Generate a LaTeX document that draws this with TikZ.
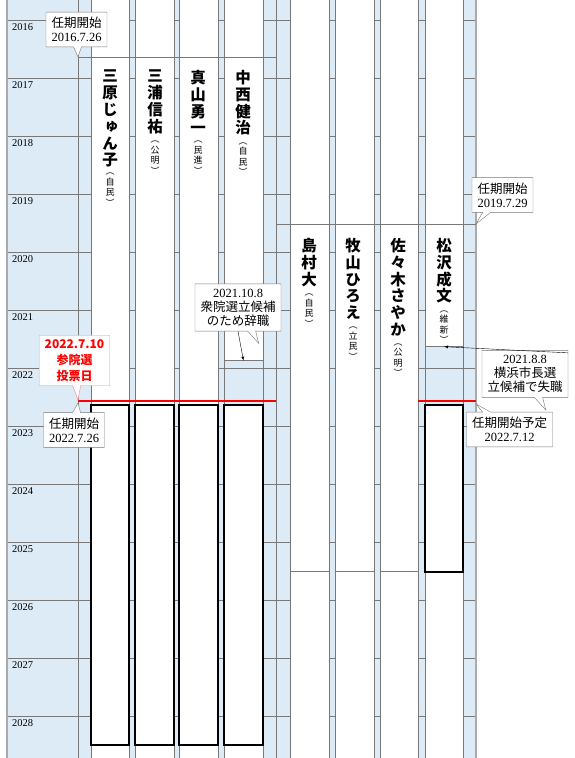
\documentclass[tikz,border=0pt]{standalone}
\usepackage{fontspec}
\setmainfont{Liberation Serif}
\newfontfamily\cjk{Noto Sans CJK JP}
\newfontfamily\tatefont[RawFeature=+vert]{Noto Sans CJK JP}
\usetikzlibrary{shapes.callouts,positioning}
\definecolor{cell}{RGB}{221,235,247}
\definecolor{gridc}{RGB}{120,120,120}
\definecolor{edgec}{RGB}{170,170,170}
\tikzset{gl/.style={draw=gridc,line width=0.7pt},
 namebox/.style={draw=gridc,fill=white,line width=0.7pt,anchor=north},
 term/.style={draw=black,line width=2pt,fill=white},
 who/.style={font=\tatefont\bfseries\fontsize{15.5}{16.8}\selectfont,align=center,inner sep=0pt,anchor=north},
 party/.style={font=\tatefont\fontsize{9}{10.5}\selectfont,align=center,inner sep=0pt},
 note/.style={rectangle callout,draw=gridc,fill=white,align=center,inner xsep=5.5pt,inner ysep=5pt,callout pointer width=8pt,font=\fontsize{12.5}{14}\selectfont},
 vote/.style={note,draw=red!50,text=red,inner ysep=4pt,font=\cjk\bfseries\fontsize{12}{16}\selectfont},
 yr/.style={font=\fontsize{10.5}{12}\selectfont,anchor=north west,inner sep=0pt}}
\newcommand{\jp}[1]{{\cjk #1}}
\newcommand{\tou}[2]{（\\#1\\#2\\）}

\begin{document}
\begin{tikzpicture}[x=1pt,y=-1pt]
\useasboundingbox (0,0) rectangle (575,758);
\fill[cell] (7,0) rectangle (476,758);
\foreach \i in {0,...,12} \draw[gl] (7,20.5+58*\i)--(476,20.5+58*\i);
\fill[white] (91,0) rectangle (129,758) (135,0) rectangle (174,758) (179,0) rectangle (218,758);
\fill[white] (224,0) rectangle (263,57) (224,745) rectangle (263,758);
\fill[white] (290,0) rectangle (329,758) (335,0) rectangle (374,758) (380,0) rectangle (418,758);
\fill[white] (425,0) rectangle (463,224) (425,572) rectangle (463,758);
\foreach \x in {78,91,129,135,174,179,218,224,263,276,290,329,335,374,380,418,425,463} \draw[gl] (\x,0)--(\x,758);
\draw[edgec,line width=2pt] (7,0)--(7,758) (476,0)--(476,758);
\draw[gl] (78,57)--(276,57) (276,224)--(476,224);
\draw[gl] (290,571)--(329,571) (335,571)--(374,571) (380,571)--(418,571);
\node[namebox,minimum width=39,minimum height=303](nakbox) at(243.5,57){};
\node[namebox,minimum width=38,minimum height=122](matbox) at(444,224){};
\draw[red,line width=2pt] (78,401)--(276,401) (418,401)--(476,401);
\draw[term] (91,405) rectangle (129,745);
\draw[term] (135,405) rectangle (174,745);
\draw[term] (179,405) rectangle (218,745);
\draw[term] (224,405) rectangle (263,745);
\draw[term] (425,405) rectangle (463,572);
\foreach \y [count=\i from 0] in {2016,...,2028} \node[yr](y\y) at(12,23+58*\i){\y};
\node[who](mihara) at(110,70){三\\原\\じ\\ゅ\\ん\\子};
\node[party,below=5pt of mihara](pmihara){\tou{自}{民}};
\node[who](miura) at(155,70){三\\浦\\信\\祐};
\node[party,below=7pt of miura](pmiura){\tou{公}{明}};
\node[who](mayama) at(198,70){真\\山\\勇\\一};
\node[party,below=7pt of mayama](pmayama){\tou{民}{進}};
\node[who](nakanishi) at(243,70){中\\西\\健\\治};
\node[party,below=7pt of nakanishi](pnakanishi){\tou{自}{民}};
\node[who](shimamura) at(309,238){島\\村\\大};
\node[party,below=7pt of shimamura](pshimamura){\tou{自}{民}};
\node[who](makiyama) at(353,238){牧\\山\\ひ\\ろ\\え};
\node[party,below=7pt of makiyama](pmakiyama){\tou{立}{民}};
\node[who](sasaki) at(398,238){佐\\々\\木\\さ\\や\\か};
\node[party,below=7pt of sasaki](psasaki){\tou{公}{明}};
\node[who](matsuzawa) at(444,238){松\\沢\\成\\文};
\node[party,below=7pt of matsuzawa](pmatsuzawa){\tou{維}{新}};
\coordinate(t16) at(78,57);\coordinate(t19) at(476,224);
\coordinate(tvote) at(78,400);\coordinate(t22) at(78,403);\coordinate(t22b) at(476,404);
\node[note,callout absolute pointer={(t16)}](c16) at(76.5,29.5){\jp{任期開始}\\2016.7.26};
\node[note,callout absolute pointer={(t19)}](c19) at(502.5,195){\jp{任期開始}\\2019.7.29};
\node[note](cres) at(238,307.5){2021.10.8\\\jp{衆院選立候補}\\\jp{のため辞職}};
\node[vote,callout absolute pointer={(tvote)}](cvote) at(74.5,360.5){2022.7.10\\参院選\\投票日};
\node[note,callout absolute pointer={(t22)}](c22) at(74,430){\jp{任期開始}\\2022.7.26};
\node[note](cmat) at(525,374){2021.8.8\\\jp{横浜市長選}\\\jp{立候補で失職}};
\node[note,callout absolute pointer={(t22b)}](c22b) at(509.5,429.5){\jp{任期開始予定}\\2022.7.12};
\draw[-latex](cres.south)--(nakbox.south);
\draw[-latex](cmat.165)--(matbox.south);
\end{tikzpicture}
\end{document}
